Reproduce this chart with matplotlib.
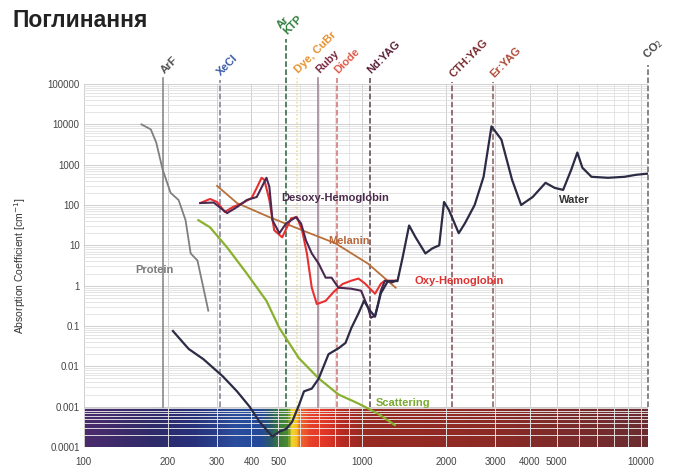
import numpy as np
import matplotlib
matplotlib.use("Agg")
import matplotlib.pyplot as plt
from matplotlib.colors import ListedColormap, to_rgb
from matplotlib.ticker import FixedLocator, LogLocator, NullFormatter

plt.rcParams['font.family'] = ['Liberation Sans', 'DejaVu Sans']

# absorption spectra (wavelength nm, absorption coefficient cm^-1)
protein_wl = [161, 174, 182, 192, 205, 219, 232, 242, 256, 267, 280]
protein_ab = [10000, 7500, 3550, 750, 200, 133, 42, 6.3, 4.2, 1.1, 0.24]

water_wl = [209, 238, 269, 316, 355, 394, 428, 476, 504, 533, 560, 593, 618, 659,
            698, 757, 822, 871, 914, 968, 1015, 1067, 1112, 1167, 1237, 1339, 1397,
            1474, 1555, 1687, 1786, 1891, 1968, 2049, 2222, 2338, 2535, 2729, 2914,
            3162, 3455, 3724, 4097, 4557, 4913, 5270, 5636, 5928, 6180, 6664, 7640,
            8750, 9620, 10600]
water_ab = [0.075, 0.027, 0.015, 0.0056, 0.0024, 0.001, 0.00042, 0.00018, 0.00024,
            0.00028, 0.00042, 0.0011, 0.0024, 0.0028, 0.005, 0.02, 0.028, 0.038,
            0.089, 0.2, 0.42, 0.24, 0.17, 0.65, 1.3, 1.3, 5, 31, 15.8, 6.3, 8.4, 10,
            119, 75, 20, 35, 100, 500, 8900, 4200, 420, 100, 158, 355, 266, 237, 750,
            2000, 841, 500, 473, 500, 560, 600]

oxy_wl = [262, 284, 301, 321, 343, 372, 401, 418, 435, 445, 464, 483, 516, 556, 583,
          608, 633, 659, 687, 739, 790, 850, 914, 970, 1025, 1112, 1167, 1207, 1320]
oxy_ab = [112, 141, 119, 67, 89, 112, 150, 266, 473, 422, 133, 23.7, 15.8, 47, 50,
          23.7, 6.3, 0.89, 0.35, 0.42, 0.7, 1.1, 1.33, 1.5, 1.12, 0.63, 1.12, 1.33, 1.33]

desoxy_wl = [262, 293, 327, 355, 385, 418, 453, 464, 476, 504, 533, 578, 603, 628, 659,
             698, 739, 776, 822, 914, 991, 1050, 1075, 1112, 1140, 1167, 1207, 1280, 1320]
desoxy_ab = [112, 115, 63, 89, 133, 158, 473, 282, 42, 20, 35, 50, 35, 13.3, 6.3,
             3.5, 1.58, 1.58, 0.89, 0.84, 0.75, 0.28, 0.16, 0.18, 0.35, 0.75, 1.33, 1.2, 1.33]

melanin_wl = [301, 355, 464, 608, 802, 1050, 1319]
melanin_ab = [298, 112, 50, 23.7, 11.2, 3.5, 0.89]

scatter_wl = [258, 284, 327, 385, 453, 504, 593, 698, 822, 968, 1140, 1309]
scatter_ab = [42, 28, 8.9, 2.0, 0.42, 0.089, 0.0158, 0.005, 0.002, 0.0012, 0.00067, 0.00035]

# laser lines
laser_names = ['ArF', 'XeCl', 'Ar\nKTP', 'Dye, CuBr', 'Ruby', 'Diode', 'Nd:YAG',
               'CTH:YAG', 'Er:YAG', 'CO$_2$']
laser_wl = [193, 308, 532, 585, 694, 810, 1064, 2100, 2940, 10600]
laser_top = [1.4e5, 1.26e5, 1.3e6, 1.4e5, 1.4e5, 1.4e5, 1.4e5, 1.1e5, 1.1e5, 3.0e5]
laser_text_col = ['#505050', '#3a5aa8', '#2e7d3a', '#e8902a', '#7a2840', '#e05a4a',
                  '#5a2038', '#7a2c30', '#b04a38', '#444444']
laser_line_col = ['#808080', '#7a7a90', '#2e5e3a', '#e8d890', '#9a8090', '#d07070',
                  '#5a4050', '#7a4a50', '#8a5a5a', '#666666']
laser_ls = ['-', '--', '--', ':', '-', '--', '--', '--', '--', '--']

x_ticks = [100, 200, 300, 400, 500, 1000, 2000, 3000, 4000, 5000, 10000]
y_ticks = [1e-4, 1e-3, 1e-2, 1e-1, 1, 10, 100, 1000, 10000, 100000]
y_labels = ['0.0001', '0.001', '0.01', '0.1', '1', '10', '100', '1000', '10000', '100000']

# colour stops of the spectrum strip
strip_wl = [100, 180, 250, 350, 430, 470, 500, 540, 560, 580, 600, 650, 750, 850,
            1000, 3000, 10600]
strip_col = ['#4b2a6b', '#2e2a6a', '#27307a', '#2a4c9c', '#24489a', '#2a5a6a',
             '#3a7a3a', '#4a8a30', '#f0d830', '#f5c020', '#ee6a28', '#e8402a',
             '#e03525', '#b52a22', '#982a22', '#8c2a25', '#6a2c30']

fig = plt.figure(figsize=(6.76, 4.72), dpi=100)
ax = fig.add_axes([0.124, 0.053, 0.834, 0.769])
ax.set_xscale('log')
ax.set_yscale('log')
ax.set_xlim(100, 10600)
ax.set_ylim(1e-4, 1e5)

# spectrum strip along the bottom decade
edges = np.logspace(2, np.log10(10600), 401)
centres = np.sqrt(edges[:-1] * edges[1:])
rgb = np.array([to_rgb(c) for c in strip_col])
lw_stops = np.log10(strip_wl)
cols = np.column_stack([np.interp(np.log10(centres), lw_stops, rgb[:, i]) for i in range(3)])
ax.pcolormesh(edges, [1e-4, 1e-3], np.arange(400)[None, :], cmap=ListedColormap(cols),
              shading='flat', zorder=0.5)

# log grid
ax.yaxis.set_major_locator(FixedLocator(y_ticks))
ax.yaxis.set_minor_locator(LogLocator(base=10, subs=np.arange(2, 10), numticks=100))
ax.xaxis.set_minor_locator(LogLocator(base=10, subs=np.arange(2, 10), numticks=100))
ax.yaxis.set_minor_formatter(NullFormatter())
ax.xaxis.set_minor_formatter(NullFormatter())
ax.grid(which='major', color='#cfcfcf', lw=0.7, zorder=0)
ax.grid(which='minor', color='#e0e0e0', lw=0.6, zorder=0)
ax.set_axisbelow(True)

# lighter grid lines on top of the strip
minor_y = [m * 1e-4 for m in range(2, 10)]
ax.hlines(minor_y, 100, 10600, color='white', lw=0.6, alpha=0.35, zorder=0.6)
ax.vlines([200, 300, 400, 500, 600, 700, 800, 900, 1000, 2000, 3000, 4000, 5000,
           6000, 7000, 8000, 9000], 1e-4, 1e-3, color='white', lw=0.6, alpha=0.3, zorder=0.6)

ax.set_xticks(x_ticks)
ax.set_xticklabels([str(v) for v in x_ticks])
ax.set_yticklabels(y_labels)
ax.tick_params(which='both', length=0, labelsize=7, labelcolor='#444444')
ax.tick_params(axis='x', pad=7)
ax.tick_params(axis='y', pad=3)
for s in ax.spines.values():
    s.set_visible(False)
ax.set_ylabel('Absorption Coefficient [cm$^{-1}$]', fontsize=7.5, color='#333333', labelpad=14)

# laser wavelengths
for name, wl, top, tc, lc, ls in zip(laser_names, laser_wl, laser_top, laser_text_col,
                                     laser_line_col, laser_ls):
    ax.plot([wl, wl], [1e-3, top], color=lc, ls=ls, lw=1.1, clip_on=False, zorder=2)
    ax.annotate(name, (wl, top), xytext=(2, 2), textcoords='offset points',
                rotation=45, rotation_mode='anchor', ha='left', va='bottom',
                fontsize=8, fontweight='bold', color=tc, annotation_clip=False,
                linespacing=0.85)

# absorption curves
ax.plot(protein_wl, protein_ab, color='#7f7f7f', lw=1.3, zorder=3)
ax.plot(scatter_wl, scatter_ab, color='#8ab030', lw=1.6, zorder=3)
ax.plot(melanin_wl, melanin_ab, color='#b8703a', lw=1.3, zorder=3)
ax.plot(oxy_wl, oxy_ab, color='#e83030', lw=1.5, zorder=4)
ax.plot(desoxy_wl, desoxy_ab, color='#4a2850', lw=1.5, zorder=4)
ax.plot(water_wl, water_ab, color='#2b2b45', lw=1.6, zorder=5)

lab = dict(fontsize=8, fontweight='bold', zorder=6)
ax.text(180, 2.4, 'Protein', color='#7a7a7a', ha='center', va='center', **lab)
ax.text(800, 150, 'Desoxy-Hemoglobin', color='#4a2a4a', ha='center', va='center', **lab)
ax.text(900, 13, 'Melanin', color='#b8683a', ha='center', va='center', **lab)
ax.text(2230, 1.3, 'Oxy-Hemoglobin', color='#e03030', ha='center', va='center', **lab)
ax.text(5800, 130, 'Water', color='#333333', ha='center', va='center', **lab)
ax.text(1400, 0.0012, 'Scattering', color='#7aaa30', ha='center', va='center', **lab)

fig.text(0.018, 0.957, 'Поглинання', fontsize=16.5, fontweight='bold', color='#222222',
         ha='left', va='center')

fig.savefig('out.png', dpi=100)
